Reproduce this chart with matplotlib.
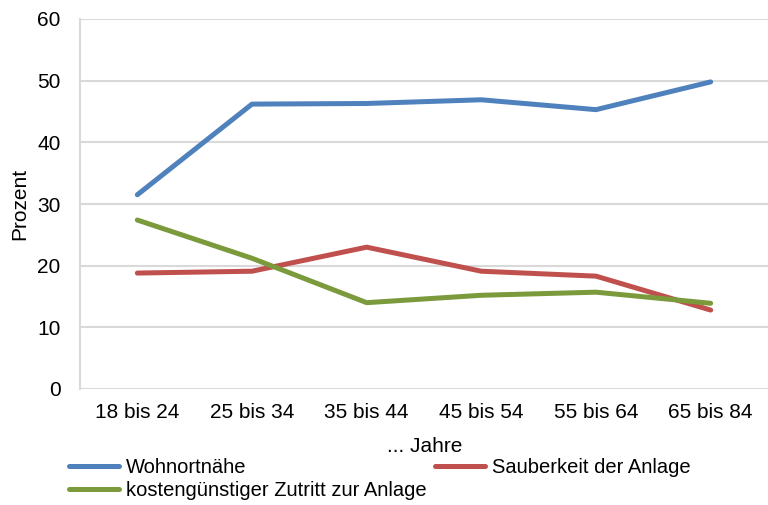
import matplotlib.pyplot as plt

plt.rcParams['font.family'] = ['Liberation Sans', 'DejaVu Sans']

kategorien = ['18 bis 24', '25 bis 34', '35 bis 44', '45 bis 54', '55 bis 64', '65 bis 84']
wohnortnaehe = [31.5, 46.2, 46.3, 46.9, 45.3, 49.8]
sauberkeit = [18.8, 19.1, 23.0, 19.1, 18.3, 12.8]
kostenguenstig = [27.4, 21.2, 14.0, 15.2, 15.7, 13.9]

fig = plt.figure(figsize=(7.68, 5.05), dpi=100)
ax = fig.add_axes([80 / 768, 1 - 389 / 505, 1 - 80 / 768, (389 - 19) / 505])

x = range(len(kategorien))
l1, = ax.plot(x, wohnortnaehe, color='#4F81BD', lw=3.6, solid_capstyle='round', label='Wohnortnähe')
l2, = ax.plot(x, sauberkeit, color='#C0504D', lw=3.6, solid_capstyle='round', label='Sauberkeit der Anlage')
l3, = ax.plot(x, kostenguenstig, color='#7A9A3C', lw=3.6, solid_capstyle='round',
              label='kostengünstiger Zutritt zur Anlage')

ax.set_xlim(-0.5, len(kategorien) - 0.5)
ax.set_ylim(0, 60)
ax.set_yticks(range(0, 61, 10))
ax.set_xticks(list(x))
ax.set_xticklabels(kategorien)
ax.yaxis.grid(True, color='#D9D9D9', lw=1.5)
ax.set_axisbelow(True)
for s in ['top', 'right', 'bottom']:
    ax.spines[s].set_visible(False)
ax.spines['left'].set_color('#D9D9D9')
ax.spines['left'].set_linewidth(1.5)
ax.tick_params(length=0, labelsize=15)
ax.tick_params(axis='y', pad=14)
ax.tick_params(axis='x', pad=10)

ax.set_ylabel('Prozent', fontsize=15, labelpad=6)
fig.text(425 / 768, 1 - 446 / 505, '... Jahre', fontsize=15, ha='center', va='center')

fig.legend([l1, l3, l2], [l1.get_label(), l3.get_label(), l2.get_label()],
           ncol=2, loc='upper left', bbox_to_anchor=(69 / 768, 1 - 458 / 505),
           frameon=False, fontsize=14.5, handlelength=2.5, handletextpad=0.33,
           columnspacing=0.4, labelspacing=0.2, borderaxespad=0, borderpad=0)

fig.savefig('out.png', dpi=100)
